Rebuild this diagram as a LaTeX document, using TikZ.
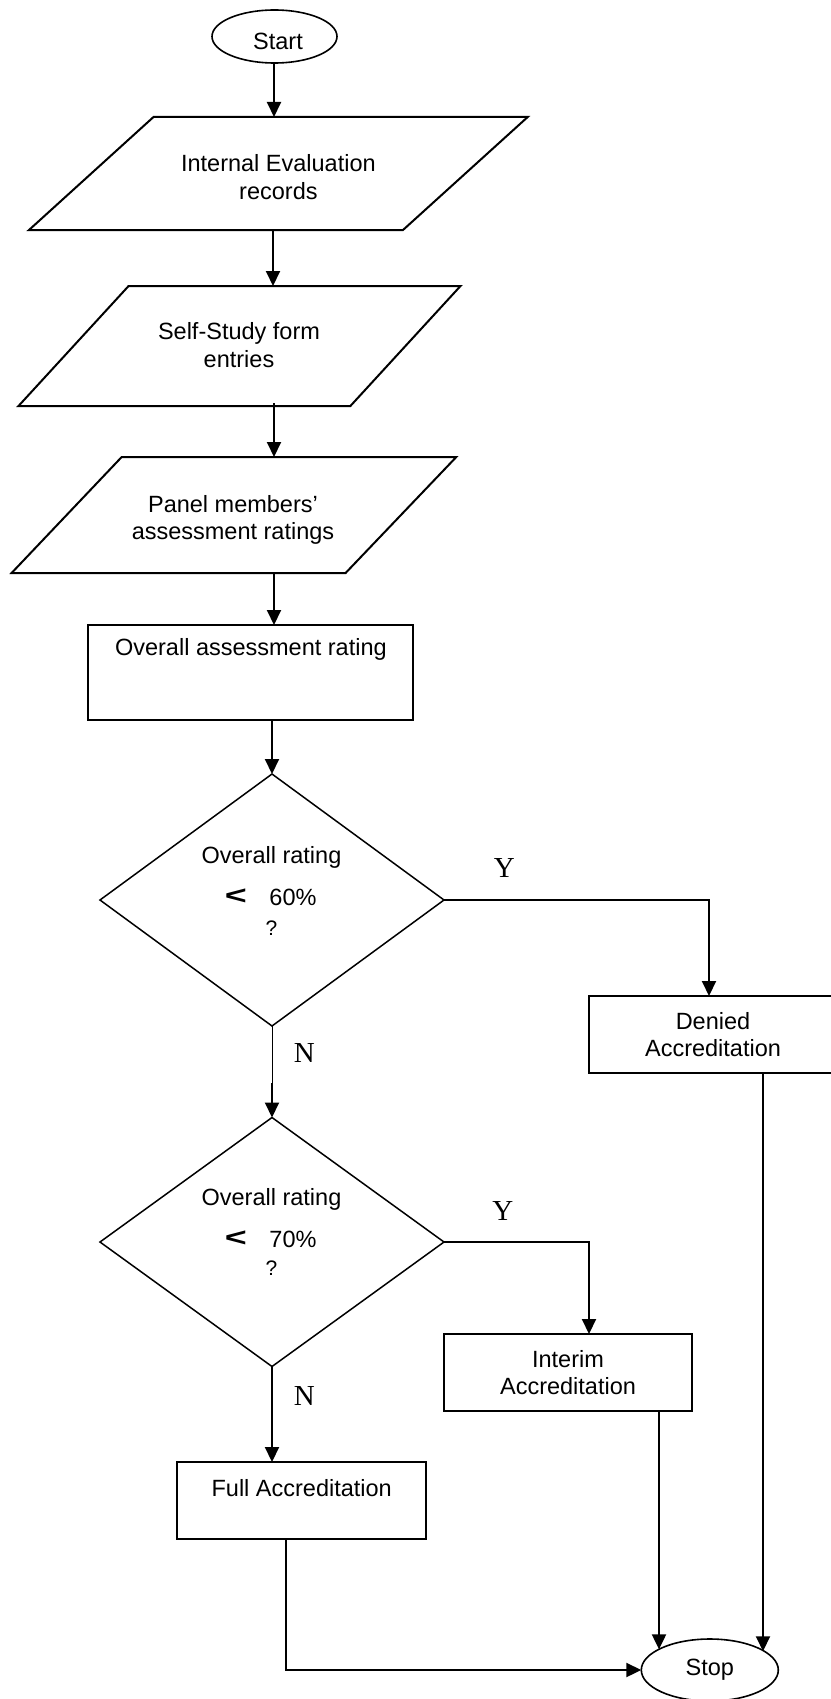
\documentclass[tikz,border=0pt]{standalone}
\usepackage{fontspec}
\setmainfont{Liberation Sans}
\newfontfamily\ynfont{Liberation Serif}
\usetikzlibrary{shapes.geometric,arrows.meta}
\begin{document}
\begin{tikzpicture}[x=1pt,y=-1pt,
  every node/.style={font=\fontsize{23.5}{27.5}\selectfont, inner sep=0pt, outer sep=0pt, align=center},
  shapeline/.style={draw, line width=2pt, line join=miter},
  boxnode/.style={shapeline, rectangle},
  termnode/.style={draw, line width=1.6pt, ellipse},
  decnode/.style={draw, line width=1.5pt, diamond},
  arr/.style={line width=2pt, -{Triangle[length=15pt,width=14pt]}},
  thinline/.style={line width=1pt},
  yn/.style={font=\ynfont\fontsize{29}{29}\selectfont},
  qmark/.style={font=\fontsize{21}{21}\selectfont},
  ltsign/.style={font=\bfseries\fontsize{26}{26}\selectfont}
]
\useasboundingbox (0,0) rectangle (830,1699);

% Start
\node[termnode, minimum width=125pt, minimum height=53pt] (start) at (274.5,36.5) {};
\node (startt) at (278,41.6) {Start};

% Parallelogram 1
\draw[shapeline] (153.5,117) -- (527.7,117) -- (403,230) -- (29,230) -- cycle;
\node (p1) at (278.4,177) {Internal Evaluation\\records};
\coordinate (p1n) at (274,117);
\coordinate (p1s) at (273,230);

% Parallelogram 2
\draw[shapeline] (128.6,286) -- (460.5,286) -- (350.4,406) -- (18.5,406) -- cycle;
\node (p2) at (239,345) {Self-Study form\\entries};
\coordinate (p2n) at (273,286);
\coordinate (p2s) at (274,403);

% Parallelogram 3
\draw[shapeline] (121.7,457) -- (456.3,457) -- (345.6,573) -- (11.6,573) -- cycle;
\node (p3) at (233,520) {Panel members’\\assessment ratings};
\coordinate (p3n) at (274,457);
\coordinate (p3s) at (274,573);

% Overall assessment rating
\node[boxnode, minimum width=325pt, minimum height=95pt] (oar) at (250.5,672.5) {};
\node (oart) at (250.9,649) {Overall assessment rating};

% Decision 1
\node[decnode, minimum width=344pt, minimum height=252pt] (d1) at (272,900) {};
\node (d1a) at (271.5,857.5) {Overall rating};
\node[ltsign] (d1lt) at (236,896.7) {\scalebox{1.45}[1]{<}};
\node (d1b) at (293,897) {60\%};
\node[qmark] (d1q) at (271.5,928) {?};

% Decision 2
\node[decnode, minimum width=344pt, minimum height=249pt] (d2) at (272,1242) {};
\node (d2a) at (271.5,1199.5) {Overall rating};
\node[ltsign] (d2lt) at (236,1238.5) {\scalebox{1.45}[1]{<}};
\node (d2b) at (293,1239) {70\%};
\node[qmark] (d2q) at (271.5,1268.5) {?};

% Outcomes
\node[boxnode, minimum width=248pt, minimum height=77pt] (denied) at (713,1034.5) {Denied\\Accreditation};
\node[boxnode, minimum width=248pt, minimum height=77pt] (interim) at (568,1372.5) {Interim\\Accreditation};
\node[boxnode, minimum width=249pt, minimum height=77pt] (full) at (301.5,1500.5) {};
\node (fullt) at (301.7,1488) {Full Accreditation};

% Stop
\node[termnode, minimum width=137pt, minimum height=62pt] (stop) at (709.8,1670) {Stop};

% Labels
\node[yn] (y1) at (504.4,868.3) {Y};
\node[yn] (n1) at (304.4,1053.3) {N};
\node[yn] (y2) at (502.8,1211) {Y};
\node[yn] (n2) at (304.4,1396) {N};

% Connectors
\draw[arr] (start.south -| p1n) -- (p1n);
\draw[arr] (p1s) -- (p2n);
\draw[arr] (p2s) -- (p3n);
\draw[arr] (p3s) -- (p3s |- oar.north);
\draw[arr] (oar.south -| d1.north) -- (d1.north);

\coordinate (nmid) at (272,1083);
\draw[thinline] (d1.south) -- (nmid);
\draw[arr] (nmid) -- (d2.north);

\draw[arr] (d1.east) -| ([xshift=-4pt]denied.north);
\draw[arr] (d2.east) -| ([xshift=21pt]interim.north);
\draw[arr] (d2.south) -- (d2.south |- full.north);

\coordinate (dout) at ([xshift=50pt]denied.south);
\coordinate (iout) at ([xshift=91pt]interim.south);
\draw[arr] (dout) -- (dout |- stop.19);
\draw[arr] (iout) -- (iout |- stop.158.5);
\draw[arr] ([xshift=-15.5pt]full.south) |- (stop.west);
\end{tikzpicture}
\end{document}
